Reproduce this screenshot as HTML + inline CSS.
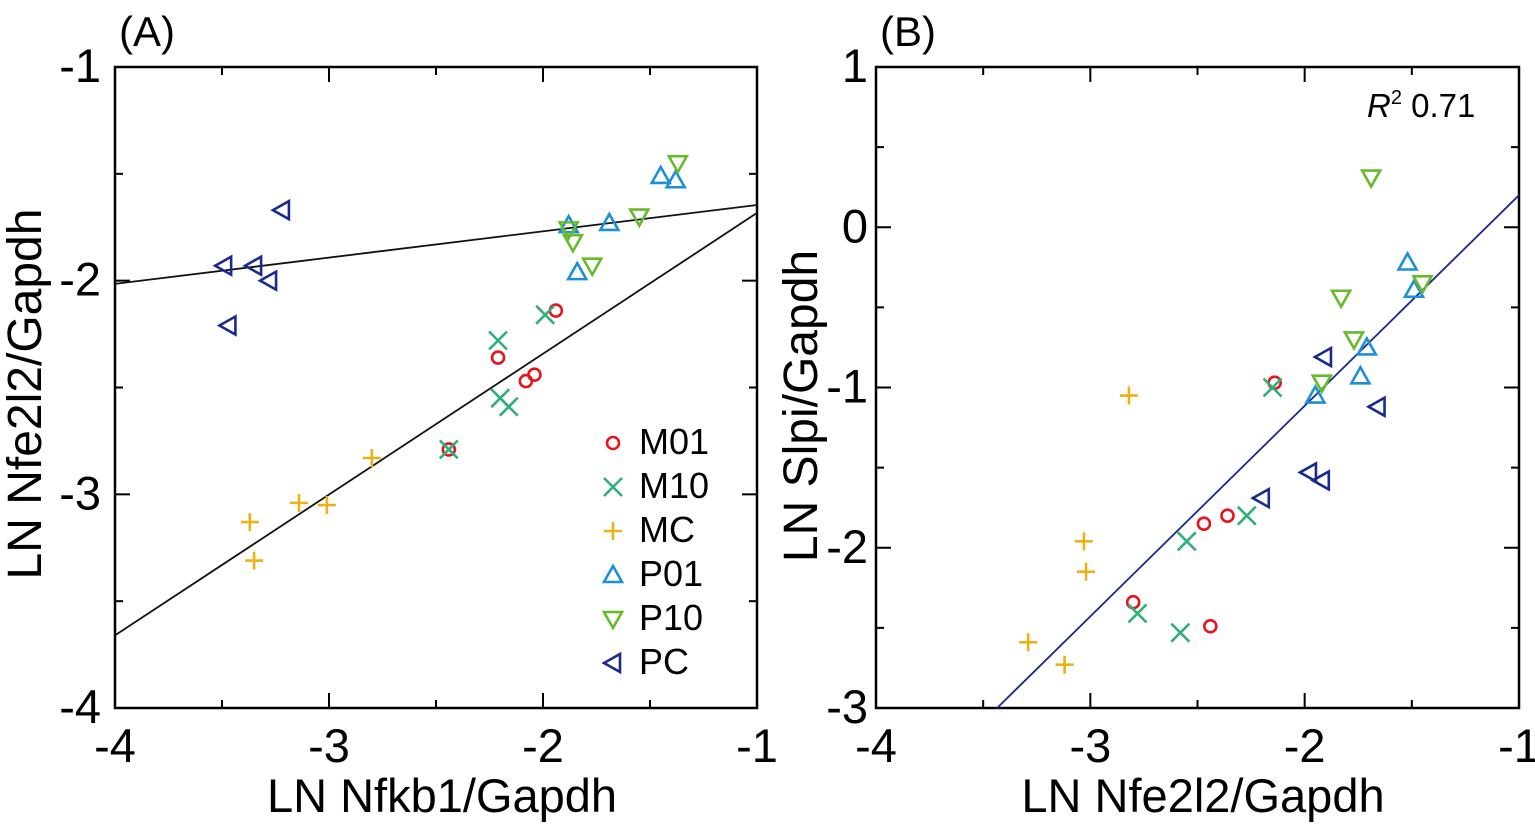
<!DOCTYPE html>
<html><head><meta charset="utf-8"><style>
html,body{margin:0;padding:0;background:#fff}
svg{display:block;font-family:"Liberation Sans",Arial,sans-serif}
</style></head><body>
<svg id="fig" width="1535" height="828" viewBox="0 0 1535 828"></svg>
<script>
const xTicksA=[-4,-3,-2,-1], yTicksA=[-4,-3,-2,-1];
const xTicksB=[-4,-3,-2,-1], yTicksB=[-3,-2,-1,0,1];
const seriesNames=["M01","M10","MC","P01","P10","PC"];
const colors=["#e8141c","#2fb07a","#e8b316","#1e8fd6","#66bb2a","#1a2a8c"];
// Panel A data (x: LN Nfkb1/Gapdh, y: LN Nfe2l2/Gapdh)
const A_M01x=[-2.21,-2.08,-2.04,-1.94,-2.44], A_M01y=[-2.36,-2.47,-2.44,-2.14,-2.79];
const A_M10x=[-2.21,-2.20,-2.16,-1.99,-2.44], A_M10y=[-2.28,-2.55,-2.59,-2.16,-2.79];
const A_MCx=[-3.37,-3.14,-3.01,-2.80,-3.35], A_MCy=[-3.13,-3.04,-3.05,-2.83,-3.31];
const A_P01x=[-1.88,-1.84,-1.69,-1.45,-1.38], A_P01y=[-1.74,-1.96,-1.73,-1.51,-1.53];
const A_P10x=[-1.88,-1.86,-1.77,-1.55,-1.37], A_P10y=[-1.76,-1.82,-1.93,-1.70,-1.45];
const A_PCx=[-3.22,-3.49,-3.35,-3.28,-3.47], A_PCy=[-1.67,-1.93,-1.93,-2.00,-2.21];
const A_fit1=[[-4,-2.015],[-1,-1.646]];
const A_fit2=[[-4,-3.66],[-1,-1.683]];
// Panel B data (x: LN Nfe2l2/Gapdh, y: LN Slpi/Gapdh)
const B_M01x=[-2.14,-2.47,-2.36,-2.80,-2.44], B_M01y=[-0.97,-1.85,-1.80,-2.34,-2.49];
const B_M10x=[-2.15,-2.55,-2.27,-2.78,-2.58], B_M10y=[-1.00,-1.96,-1.80,-2.41,-2.53];
const B_MCx=[-2.82,-3.03,-3.02,-3.29,-3.12], B_MCy=[-1.05,-1.96,-2.15,-2.59,-2.73];
const B_P01x=[-1.52,-1.49,-1.71,-1.74,-1.95], B_P01y=[-0.22,-0.39,-0.75,-0.93,-1.05];
const B_P10x=[-1.69,-1.83,-1.77,-1.92,-1.45], B_P10y=[0.31,-0.44,-0.70,-0.97,-0.35];
const B_PCx=[-1.91,-1.66,-1.98,-1.92,-2.20], B_PCy=[-0.81,-1.12,-1.53,-1.58,-1.69];
const B_fit=[[-3.435,-3],[-1,0.20]];

const NS="http://www.w3.org/2000/svg";
const svg=document.getElementById('fig');
function mk(tag,attrs,parent){const e=document.createElementNS(NS,tag);for(const k in attrs)e.setAttribute(k,attrs[k]);(parent||svg).appendChild(e);return e;}
function txt(parent,x,y,size,anchor,str,rot){
  const t=mk('text',{x:0,y:0,'font-size':size,'text-anchor':anchor,
    transform:`translate(${x},${y})${rot?' rotate(-90)':''}`},parent);
  t.textContent=str;return t;
}

function panel(id,L,T,W,H,xmin,xmax,ymin,ymax,xt,yt,xlabel,ylabel,letter,ytx,xlc,ylx,yly){
  const g=mk('g',{});
  
  
  const sx=v=>L+(v-xmin)/(xmax-xmin)*W;
  const sy=v=>T+(ymax-v)/(ymax-ymin)*H;
  const frame=mk('rect',{x:L,y:T,width:W,height:H,fill:'none',stroke:'#000','stroke-width':2.5},g);
  
  
  for(let v=xmin;v<=xmax+1e-9;v+=0.5){
    const major=Math.abs(v-Math.round(v))<1e-9, len=major?15:8, x=sx(v);
    mk('line',{x1:x,y1:T+H,x2:x,y2:T+H-len,stroke:'#000','stroke-width':2},g);
    mk('line',{x1:x,y1:T,x2:x,y2:T+len,stroke:'#000','stroke-width':2},g);
  }
  for(let v=ymin;v<=ymax+1e-9;v+=0.5){
    const major=Math.abs(v-Math.round(v))<1e-9, len=major?15:8, y=sy(v);
    mk('line',{x1:L,y1:y,x2:L+len,y2:y,stroke:'#000','stroke-width':2},g);
    mk('line',{x1:L+W,y1:y,x2:L+W-len,y2:y,stroke:'#000','stroke-width':2},g);
  }
  xt.forEach(v=>{const t=txt(g,sx(v),T+H+54,47,'middle',String(v));
    });
  yt.forEach(v=>{const t=txt(g,L-ytx,sy(v)+15,47,'end',String(v));
    });
  const xl=txt(g,xlc,T+H+104,47,'middle',xlabel);
  
  const yl=txt(g,ylx,yly,48,'middle',ylabel,true);
  
  const pl=txt(g,L+4,T-21,42,'start',letter);
  
  return {g,sx,sy};
}

function marker(g,type,cx,cy,color){
  const s=9, a={fill:'none',stroke:color,'stroke-width':2.6};
  let e;
  if(type===0){e=mk('circle',Object.assign({cx,cy,r:6},a),g);}
  else if(type===1){e=mk('path',Object.assign({d:`M${cx-s} ${cy-s}L${cx+s} ${cy+s}M${cx-s} ${cy+s}L${cx+s} ${cy-s}`},a),g);}
  else if(type===2){e=mk('path',Object.assign({d:`M${cx-s} ${cy}L${cx+s} ${cy}M${cx} ${cy-s}L${cx} ${cy+s}`},a),g);}
  else if(type===3){e=mk('path',Object.assign({d:`M${cx} ${cy-s}L${cx+s} ${cy+7}L${cx-s} ${cy+7}Z`},a),g);}
  else if(type===4){e=mk('path',Object.assign({d:`M${cx} ${cy+s}L${cx+s} ${cy-7}L${cx-s} ${cy-7}Z`},a),g);}
  else {e=mk('path',Object.assign({d:`M${cx-s} ${cy}L${cx+7} ${cy-s}L${cx+7} ${cy+s}Z`},a),g);}
  return e;
}

function drawSeries(p,xs,ys,type,name){
  xs.forEach((x,i)=>{const e=marker(p.g,type,p.sx(x),p.sy(ys[i]),colors[type]);
    
    });
}
function drawLine(p,pts,color,name){
  const e=mk('line',{x1:p.sx(pts[0][0]),y1:p.sy(pts[0][1]),x2:p.sx(pts[1][0]),y2:p.sy(pts[1][1]),stroke:color,'stroke-width':1.8},p.g);
  
  
}

const pA=panel('panel-a',115,67,642,641,-4,-1,-4,-1,xTicksA,yTicksA,'LN Nfkb1/Gapdh','LN Nfe2l2/Gapdh','(A)',14,442,41,394);
drawLine(pA,A_fit1,'#111','fit-line-pc');
drawLine(pA,A_fit2,'#111','fit-line-main');
[[A_M01x,A_M01y],[A_M10x,A_M10y],[A_MCx,A_MCy],[A_P01x,A_P01y],[A_P10x,A_P10y],[A_PCx,A_PCy]].forEach((d,i)=>drawSeries(pA,d[0],d[1],i,seriesNames[i]));
const lg=mk('g',{},pA.g);


seriesNames.forEach((n,i)=>{
  const y=443+i*44;
  const m=marker(lg,i,613,y,colors[i]);
  
  
  const t=txt(lg,639,y+11,36,'start',n);
  
  
});

const pB=panel('panel-b',876,67,643,641,-4,-1,-3,1,xTicksB,yTicksB,'LN Nfe2l2/Gapdh','LN Slpi/Gapdh','(B)',8,1203,817,406);
drawLine(pB,B_fit,'#1a2a8c','fit-line');
[[B_M01x,B_M01y],[B_M10x,B_M10y],[B_MCx,B_MCy],[B_P01x,B_P01y],[B_P10x,B_P10y],[B_PCx,B_PCy]].forEach((d,i)=>drawSeries(pB,d[0],d[1],i,seriesNames[i]));
const r2=mk('text',{x:1367,y:117,'font-size':33},pB.g);
r2.innerHTML='<tspan font-style="italic">R</tspan><tspan font-size="20" dy="-13">2</tspan><tspan dy="13"> 0.71</tspan>';


</script>
</body></html>
